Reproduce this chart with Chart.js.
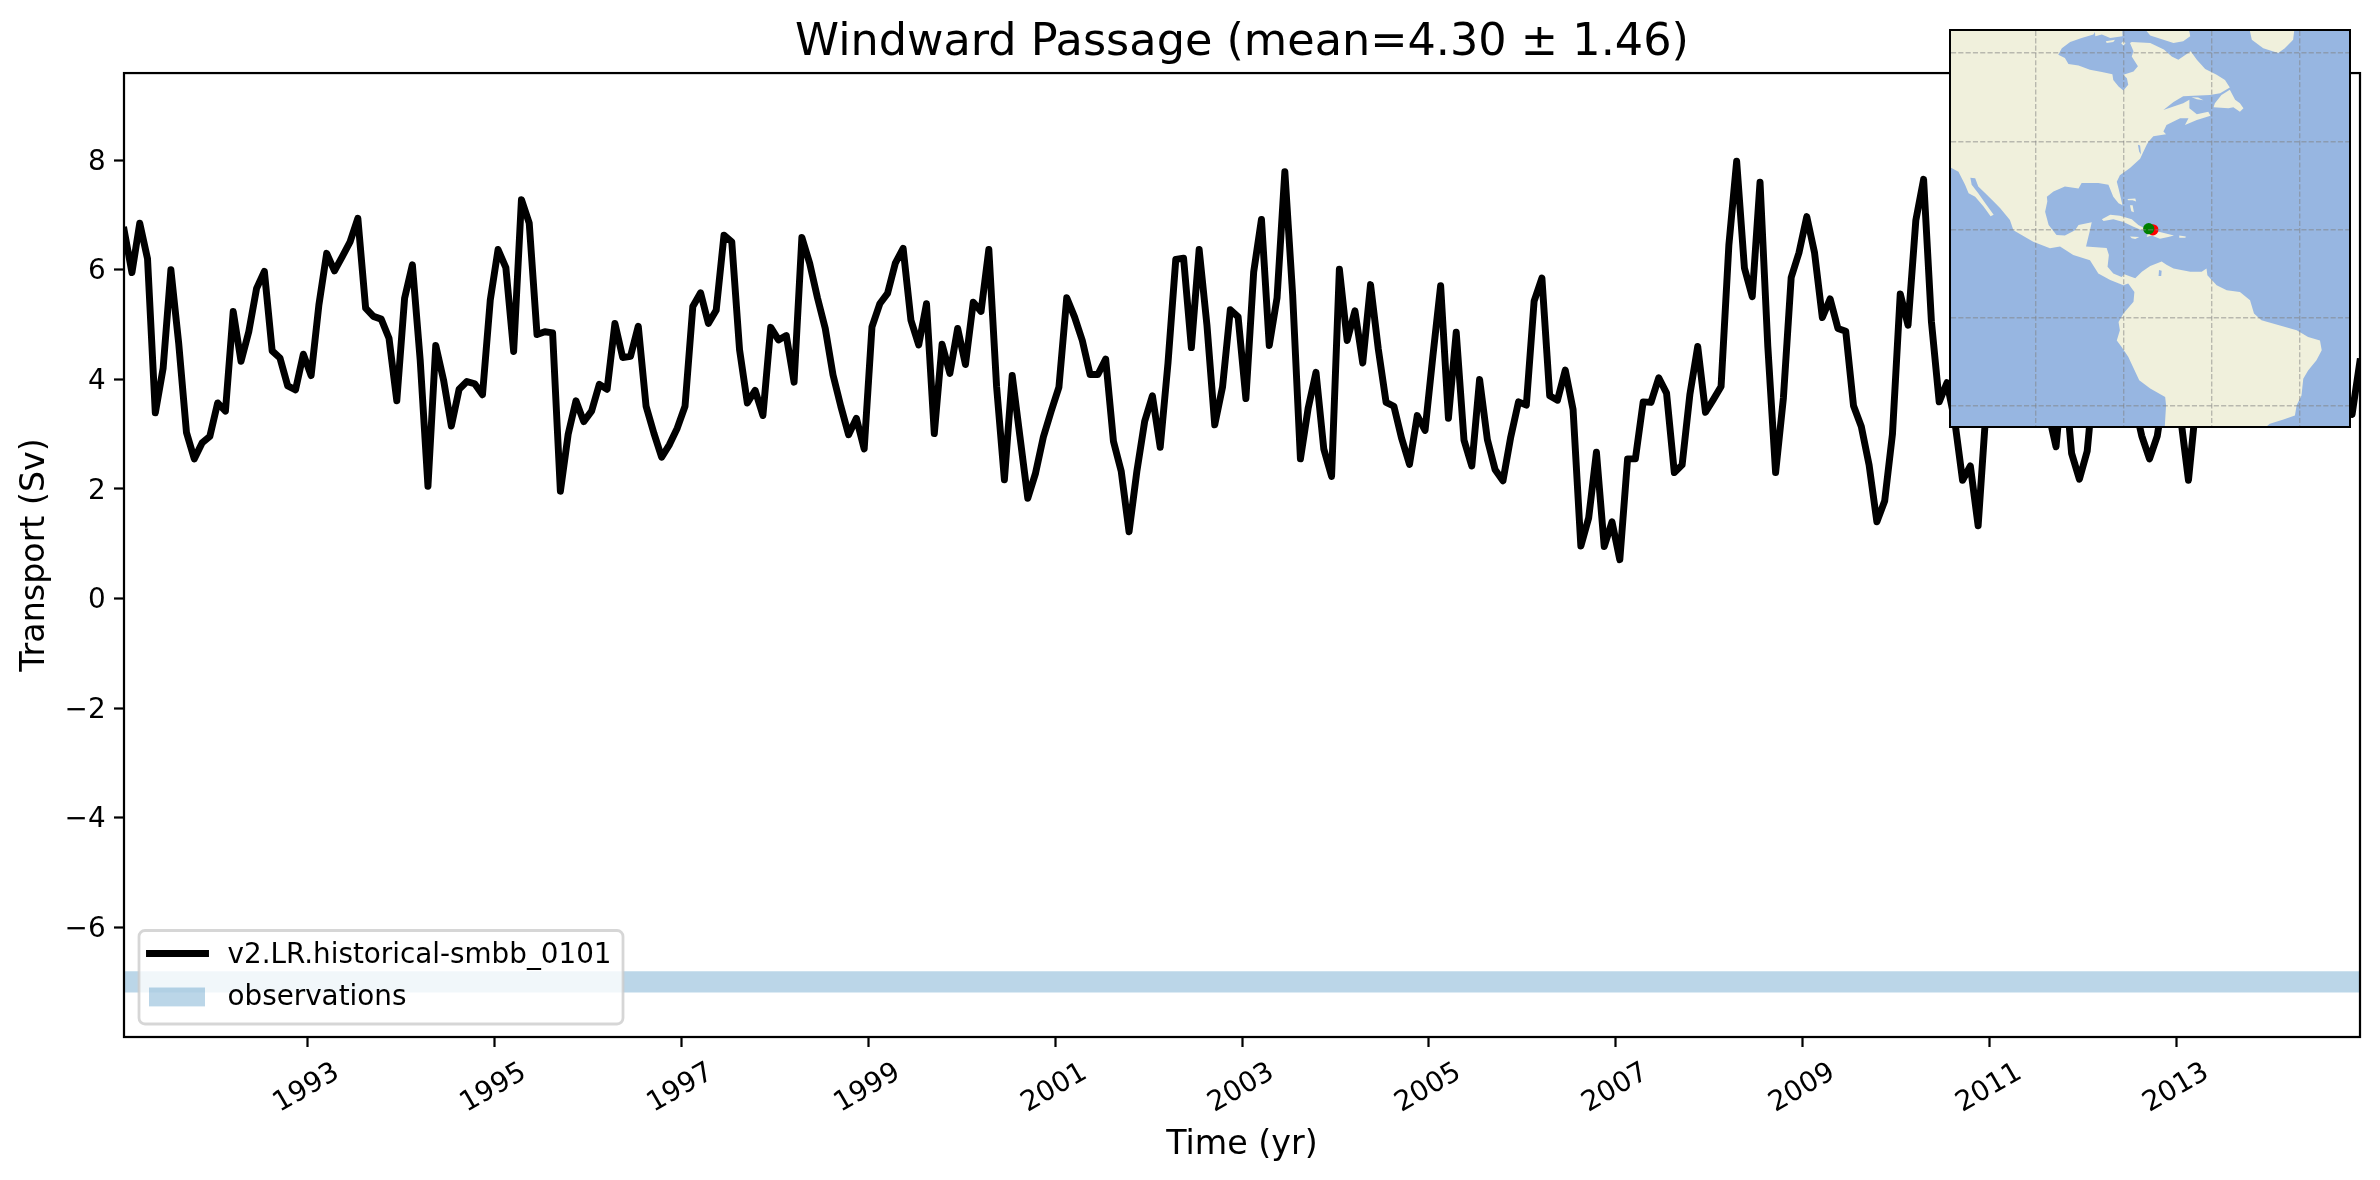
<!DOCTYPE html>
<html>
<head>
<meta charset="utf-8">
<script src="https://cdn.jsdelivr.net/npm/chart.js@4"></script>
<style>
html,body{margin:0;padding:0;background:#fff;width:2380px;height:1180px;overflow:hidden}
#main{position:absolute;left:0;top:0}
#mapbox{position:absolute;left:1949px;top:29px;width:398px;height:394.5px;border:2.2px solid #000;background:#97b6e1}
#map{display:block}
</style>
</head>
<body>
<canvas id="main" width="2380" height="1180"></canvas>
<div id="mapbox"><canvas id="map" width="398" height="395"></canvas></div>
<script>
const titleText = "Windward Passage (mean=4.30 ± 1.46)";
const seriesName = "v2.LR.historical-smbb_0101";
const obsName = "observations";
const startYear = 1991;
const xTicks = [1993,1995,1997,1999,2001,2003,2005,2007,2009,2011,2013];
const yTicks = [-6,-4,-2,0,2,4,6,8];
const xLimits = [1991.04,2014.96];
const yLimits = [-8.0,9.59];
const obsHigh = -6.80;
const obsLow = -7.19;
const transport = [
6.72,5.95,6.85,6.2,3.39,4.2,6.0,4.66,3.03,2.55,2.84,2.96,
3.57,3.42,5.24,4.33,4.87,5.66,5.97,4.52,4.39,3.88,3.81,4.46,
4.07,5.36,6.3,5.98,6.24,6.51,6.94,5.3,5.15,5.1,4.75,3.61,
5.48,6.09,4.36,2.05,4.62,3.99,3.15,3.82,3.96,3.92,3.72,5.45,
6.37,6.04,4.51,7.28,6.85,4.82,4.87,4.85,1.96,3.0,3.61,3.23,
3.42,3.91,3.82,5.02,4.4,4.42,4.97,3.51,3.02,2.58,2.81,3.11,
3.51,5.33,5.58,5.02,5.26,6.63,6.51,4.54,3.57,3.8,3.34,4.95,
4.72,4.8,3.95,6.59,6.12,5.49,4.93,4.08,3.51,2.99,3.29,2.73,
4.96,5.38,5.57,6.12,6.39,5.08,4.63,5.38,3.01,4.64,4.11,4.93,
4.27,5.41,5.24,6.37,3.86,2.17,4.07,2.95,1.83,2.29,2.95,3.42,
3.86,5.49,5.14,4.71,4.09,4.09,4.37,2.87,2.32,1.22,2.32,3.23,
3.7,2.76,4.3,6.19,6.21,4.58,6.37,4.99,3.17,3.86,5.27,5.14,
3.65,5.96,6.92,4.62,5.49,7.79,5.55,2.55,3.48,4.13,2.73,2.23,
6.01,4.71,5.25,4.3,5.73,4.55,3.58,3.51,2.92,2.45,3.34,3.07,
4.42,5.71,3.29,4.86,2.89,2.42,4.0,2.9,2.35,2.15,2.95,3.59,
3.53,5.43,5.85,3.7,3.62,4.17,3.45,0.96,1.47,2.67,0.95,1.40,
0.71,2.55,2.55,3.59,3.58,4.03,3.75,2.30,2.44,3.73,4.60,3.40,
3.63,3.87,6.45,7.98,6.03,5.51,7.6,4.6,2.30,3.66,5.86,6.31,
6.97,6.31,5.13,5.47,4.93,4.88,3.52,3.14,2.44,1.40,1.78,3.0,
5.56,4.99,6.9,7.65,5.06,3.59,3.94,3.24,2.16,2.42,1.33,3.42,
5.2,6.1,6.6,5.4,4.6,5.6,4.4,3.4,2.77,4.3,2.65,2.18,
2.69,4.2,5.0,6.2,5.3,4.4,3.6,2.97,2.55,2.97,3.9,5.1,
3.3,2.16,3.6,4.8,5.9,5.4,6.3,4.7,3.9,4.9,5.7,4.6,
3.8,4.4,5.5,6.0,4.9,4.1,5.0,4.5,3.9,3.8,3.36,4.32];

// map outlines, [longitude, latitude]
const mapLon = [-119.2,-28.7];
const mapLat = [-24.6,65];
const gridLon = [-100,-80,-60,-40];
const gridLat = [-20,0,20,40,60];
const sectionEast = [-73.3,19.9];
const sectionWest = [-74.24,20.15];
const americas = [[-125,70],[-87.2,70],[-86.4,64.9],[-86.8,64.2],[-89.5,63.4],[-92.1,62.5],[-94,61.1],[-94.8,59.6],[-93.3,58.9],[-92.5,57.5],[-90.2,57.2],[-87.6,56.2],[-84.9,55.7],[-82.5,55.2],[-82.3,53.9],[-81.1,52.4],[-80,51.5],[-78.9,52.8],[-79.2,54.3],[-80,55.1],[-77.7,55.8],[-76.7,57],[-78.1,59.2],[-77.7,60.4],[-78.5,62.3],[-78.1,62.5],[-73.9,62.3],[-70.8,60.8],[-69,59.2],[-67.5,58.5],[-65.6,59.8],[-64.7,60.4],[-63.3,58.5],[-61.4,56.4],[-58.8,55.1],[-56.9,53.9],[-55.8,52.2],[-58,50.9],[-60.3,50.5],[-64.1,50.3],[-66.4,50.2],[-68.6,48.9],[-70.9,47.1],[-68.6,47.9],[-66.4,48.6],[-65,49.4],[-65,47.5],[-63.3,46.1],[-60.7,46.7],[-60.2,45.8],[-63.3,44.8],[-66,43.7],[-65.2,45.2],[-67.1,45.2],[-70.2,43.7],[-70.9,42.2],[-70.3,41.6],[-73.2,41.1],[-74.3,39.9],[-74.7,39.2],[-75.8,36.9],[-76.2,36],[-78.5,33.9],[-80.8,32.3],[-81.5,30.8],[-81.1,29.3],[-80.2,25.5],[-81.1,25.9],[-82.3,27.4],[-83.4,30.1],[-85.7,30.5],[-89.5,30.5],[-90.2,29.3],[-93.3,29.7],[-95.9,28.6],[-97.4,27.4],[-97.3,26.3],[-97.8,24],[-97,21],[-95.2,18.7],[-93.3,18.6],[-91,19.8],[-90.2,21],[-87.2,21.6],[-87.6,19.8],[-88.5,16.1],[-83.8,15.8],[-83.3,14.2],[-83.6,11.5],[-82.3,10],[-80.4,9.2],[-79.8,9.8],[-78.1,9.2],[-77.3,8.9],[-75.8,10.4],[-73.9,11.7],[-71.3,12.7],[-70.2,12],[-68.6,11.1],[-64.8,10.4],[-62.2,10.4],[-61.1,11.1],[-60.9,9.6],[-58.8,7.3],[-56.5,6.2],[-53.5,5.8],[-51.2,3.9],[-50.3,0.9],[-48.6,-0.6],[-44.8,-1.7],[-40.6,-2.9],[-38,-4.4],[-35.3,-5.2],[-34.9,-7.4],[-36.1,-9.7],[-38,-12],[-39.1,-13.9],[-39.5,-17.7],[-40.6,-19.9],[-41,-22.2],[-43.6,-23.1],[-46.7,-24.1],[-47.8,-25],[-47.8,-30],[-70.9,-30],[-70.3,-19.9],[-70.5,-18],[-73.9,-16.1],[-76.4,-14.2],[-78.9,-8.9],[-80.4,-6.7],[-81.5,-5.2],[-80.8,-2.9],[-81.1,-1],[-80,0.9],[-77.7,3.6],[-77.5,5.8],[-78.9,7.7],[-80,7.3],[-83,8.5],[-85.7,10],[-87.6,13],[-91.4,14.2],[-94.4,16.1],[-96.7,15.7],[-100.5,17.2],[-105,19.8],[-105.8,22.1],[-108,24.8],[-109.5,26.3],[-111.4,28.2],[-113,29.7],[-113.7,31.6],[-114.8,31.7],[-114.5,30.1],[-113,28.2],[-111.4,25.9],[-109.5,23.3],[-110.2,23],[-111.8,25.2],[-113.7,27.4],[-115.2,28.2],[-116,30.1],[-117.5,33.1],[-119.2,34],[-125,34],[-125,70]];
const southampton = [[-86.8,70],[-80.4,70],[-80.2,63.8],[-83,63.4],[-84.9,64.2],[-86.4,63.8],[-86.8,70]];
const baffin = [[-78.9,70],[-73.9,64],[-68.6,62.3],[-66.4,62.7],[-64.8,63.8],[-66,70],[-78.9,70]];
const isle1 = [[-84,62.7],[-81.9,63],[-82.3,62.5],[-83.8,62.3],[-84,62.7]];
const isle2 = [[-80.5,62.2],[-80,62.7],[-79.5,62.2],[-80,61.7],[-80.5,62.2]];
const greenland = [[-52.3,70],[-50.8,63],[-48.2,61.1],[-44.8,60],[-43.3,61.1],[-41.4,63],[-40.6,70],[-52.3,70]];
const newfoundland = [[-55.8,51.7],[-57.7,50.5],[-59.2,48.6],[-59.5,47.7],[-56.1,47.5],[-55,47.7],[-53.5,46.7],[-52.7,47.5],[-53.5,48.6],[-54.6,49.4],[-55.8,51.7]];
const anticosti = [[-64.5,50],[-63,49.9],[-61.8,49.3],[-63.3,49.5],[-64.5,50]];
const cuba = [[-84.9,22.3],[-83,23.3],[-80.8,23.1],[-78.1,22.3],[-76.6,21],[-74.7,20],[-75.8,19.8],[-77.7,20.6],[-80,21.7],[-82.3,22.3],[-84.5,21.9],[-84.9,22.3]];
const hispaniola = [[-74.3,19.4],[-71.7,19.4],[-68.5,18.6],[-69.8,18.3],[-71.7,17.9],[-73.6,18.6],[-74.7,18.3],[-74.3,19.4]];
const jamaica = [[-78.5,18.4],[-76.4,18.3],[-77.3,17.8],[-78.1,18],[-78.5,18.4]];
const puertoRico = [[-67.3,18.6],[-65.8,18.4],[-65.9,18.1],[-67.3,18.1],[-67.3,18.6]];
const bahamas = [[-79.1,26.9],[-77.3,27],[-77.1,26.3],[-77.9,26.6],[-78.9,26.6],[-79.1,26.9]];
const andros = [[-78.5,25.5],[-77.9,25.5],[-77.6,23.9],[-78.2,24.1],[-78.5,25.5]];
const maracaibo = [[-71.9,10.8],[-71.3,10.6],[-71.4,9.4],[-72,9.4],[-71.9,10.8]];
const chesapeake = [[-76.7,39.2],[-76.2,39],[-76,37],[-76.4,37.6],[-76.7,39.2]];

const FONT = "'DejaVu Sans'";
const LINE_W = 6.94, SPINE = 2.22;
Chart.defaults.font.family = FONT;
Chart.defaults.color = '#000';
Chart.defaults.animation = false;

const frameAndLegend = {
  id:'frameAndLegend',
  afterDatasetsDraw(chart){
    const c = chart.ctx, a = chart.chartArea;
    c.save();
    c.strokeStyle = '#000'; c.lineWidth = SPINE;
    c.strokeRect(a.left,a.top,a.right-a.left,a.bottom-a.top);
    // legend
    const L=a.left+15, T=a.bottom-106.5, W=484, H=93.5, R=6;
    c.beginPath(); c.roundRect(L,T,W,H,R);
    c.fillStyle='rgba(255,255,255,0.8)'; c.fill();
    c.strokeStyle='rgba(204,204,204,0.8)'; c.lineWidth=2.78; c.stroke();
    c.strokeStyle='#000'; c.lineWidth=LINE_W; c.lineCap='square';
    c.beginPath(); c.moveTo(L+10.5,T+23); c.lineTo(L+66.5,T+23); c.stroke();
    c.fillStyle='rgba(31,119,180,0.3)'; c.fillRect(L+10,T+57,56,18.9);
    c.fillStyle='#000'; c.font="27.8px "+FONT; c.textBaseline='alphabetic'; c.textAlign='left';
    c.fillText(chart.data.datasets[0].label,L+88.5,T+32.2);
    c.fillText(chart.data.datasets[1].label,L+88.5,T+74.5);
    c.restore();
  }
};

new Chart(document.getElementById('main'),{
  type:'scatter',
  data:{datasets:[
    {label:seriesName,showLine:true,data:transport.map((v,i)=>({x:startYear+(i+0.5)/12,y:v})),
     borderColor:'#000',borderWidth:LINE_W,borderJoinStyle:'round',borderCapStyle:'square',pointRadius:0,tension:0,clip:0,fill:false},
    {label:obsName,showLine:true,data:xLimits.map(x=>({x,y:obsHigh})),
     borderWidth:0,borderColor:'rgba(0,0,0,0)',pointRadius:0,backgroundColor:'rgba(31,119,180,0.3)',
     fill:{target:{value:obsLow}}}
  ]},
  plugins:[frameAndLegend],
  options:{
    responsive:false,devicePixelRatio:1,
    layout:{padding:{left:0,right:20,top:0,bottom:0}},
    plugins:{
      legend:{display:false},tooltip:{enabled:false},
      title:{display:true,text:titleText,fullSize:false,color:'#000',
        font:{size:44.55,weight:'normal',family:FONT,lineHeight:1.2},padding:{top:17,bottom:2.6}}
    },
    scales:{
      x:{type:'linear',min:xLimits[0],max:xLimits[1],
        afterBuildTicks:s=>{s.ticks=xTicks.map(v=>({value:v}));},
        afterFit:s=>{s.height=143;},
        grid:{drawOnChartArea:false,drawTicks:true,tickLength:10,tickWidth:SPINE,tickColor:'#000'},
        border:{display:false},
        ticks:{autoSkip:false,minRotation:30,maxRotation:30,labelOffset:30,padding:9.2,color:'#000',
          font:{size:27.8},callback:v=>String(v)},
        title:{display:true,text:'Time (yr)',color:'#000',font:{size:33.3},padding:{top:0,bottom:15}}
      },
      y:{type:'linear',min:yLimits[0],max:yLimits[1],
        afterBuildTicks:s=>{s.ticks=yTicks.map(v=>({value:v}));},
        afterFit:s=>{s.width=124;},
        grid:{drawOnChartArea:false,drawTicks:true,tickLength:10,tickWidth:SPINE,tickColor:'#000'},
        border:{display:false},
        ticks:{autoSkip:false,padding:8.4,labelOffset:2.3,color:'#000',font:{size:27.8},
          callback:v=>String(v).replace('-','\u2212')},
        title:{display:true,text:'Transport (Sv)',color:'#000',font:{size:33.3},padding:{top:15.5,bottom:0}}
      }
    }
  }
});

const LAND = '#f0f0dc', OCEAN = '#97b6e1';
// outlines: Chart.js places every vertex through its scales, this plugin fills the resulting shape
const mapFill = {
  id:'mapFill',
  beforeDatasetsDraw(chart){
    const c = chart.ctx, a = chart.chartArea;
    c.save();
    c.beginPath(); c.rect(a.left,a.top,a.right-a.left,a.bottom-a.top); c.clip();
    for(let i=chart.data.datasets.length-1;i>=0;i--){
      const d = chart.data.datasets[i];
      if(!d.landFill) continue;
      const pts = chart.getDatasetMeta(i).data;
      c.beginPath();
      pts.forEach((p,k)=>{ if(k) c.lineTo(p.x,p.y); else c.moveTo(p.x,p.y); });
      c.closePath();
      c.fillStyle = d.landFill; c.fill();
    }
    c.restore();
  }
};
const poly = (pts,color)=>({landFill:color,showLine:false,data:pts.map(p=>({x:p[0],y:p[1]})),pointRadius:0});
const dot = (p,color)=>({data:[{x:p[0],y:p[1]}],pointRadius:5.6,backgroundColor:color,borderWidth:0,showLine:false});
const GRID = {color:'rgba(128,128,128,0.5)',lineWidth:1.39,drawTicks:false,z:1};
new Chart(document.getElementById('map'),{
  type:'scatter',
  data:{datasets:[
    dot(sectionWest,'#008000'),dot(sectionEast,'#ff0000'),
    poly(maracaibo,OCEAN),poly(chesapeake,OCEAN),
    poly(cuba,LAND),poly(hispaniola,LAND),poly(jamaica,LAND),poly(puertoRico,LAND),
    poly(bahamas,LAND),poly(andros,LAND),poly(anticosti,LAND),poly(newfoundland,LAND),
    poly(greenland,LAND),poly(isle1,LAND),poly(isle2,LAND),poly(baffin,LAND),poly(southampton,LAND),
    poly(americas,LAND)
  ]},
  plugins:[mapFill],
  options:{
    responsive:false,devicePixelRatio:1,
    layout:{padding:0,autoPadding:false},
    plugins:{legend:{display:false},tooltip:{enabled:false}},
    scales:{
      x:{type:'linear',min:mapLon[0],max:mapLon[1],
        afterBuildTicks:s=>{s.ticks=gridLon.map(v=>({value:v}));},
        ticks:{display:false},border:{display:false,dash:[5.1,2.2]},grid:GRID},
      y:{type:'linear',min:mapLat[0],max:mapLat[1],
        afterBuildTicks:s=>{s.ticks=gridLat.map(v=>({value:v}));},
        ticks:{display:false},border:{display:false,dash:[5.1,2.2]},grid:GRID}
    }
  }
});
</script>
</body>
</html>
